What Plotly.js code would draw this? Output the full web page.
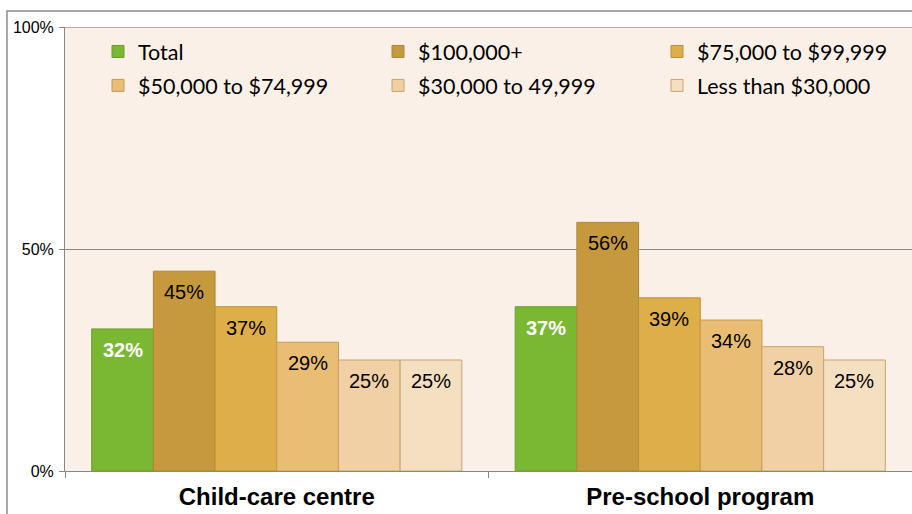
<!DOCTYPE html>
<html><head><meta charset="utf-8">
<script src="https://cdn.plot.ly/plotly-3.0.1.min.js"></script>
<style>body{margin:0;background:#fff}#c{width:912px;height:514px}</style>
</head><body><div id="c"></div>
<script>
const categories = ['Child-care centre', 'Pre-school program'];
const seriesNames = ['Total', '$100,000+', '$75,000 to $99,999', '$50,000 to $74,999', '$30,000 to 49,999', 'Less than $30,000'];
const total = [32, 37];
const inc100k = [45, 56];
const inc75k = [37, 39];
const inc50k = [29, 34];
const inc30k = [25, 28];
const incLess30k = [25, 25];
const yTickVals = [0, 50, 100];
const yTickText = ['0%', '50%', '100%'];

const seriesValues = [total, inc100k, inc75k, inc50k, inc30k, incLess30k];
const fills = ['#7AB733', '#C6993F', '#DEAE48', '#E9BE74', '#F0D0A4', '#F4DFC1'];
const borders = ['#6C9E2C', '#B08734', '#B8903A', '#C29A55', '#C9A26A', '#C9A46E'];
// legend column for each series (three columns, two rows)
const legendOf = ['legend', 'legend2', 'legend3', 'legend', 'legend2', 'legend3'];

const W = 912, H = 514;
const margin = {l: 65, r: 0, t: 27, b: 43};
const bargap = 0.126;
const plotW = W - margin.l - margin.r;
const plotH = H - margin.t - margin.b;
const barPx = plotW / categories.length * (1 - bargap) / seriesNames.length;

const traces = seriesNames.map((n, i) => ({
  type: 'bar', name: n, x: categories, y: seriesValues[i],
  legend: legendOf[i], legendgroup: n,
  marker: {color: fills[i], line: {color: borders[i], width: 1}},
  hoverinfo: 'none'
}));

const annotations = [];
seriesValues.forEach((vals, i) => {
  vals.forEach((v, j) => {
    annotations.push({
      x: categories[j], y: v, xref: 'x', yref: 'y',
      text: v + '%', showarrow: false, yanchor: 'top', yshift: -8,
      xshift: (i - (seriesNames.length - 1) / 2) * barPx,
      font: i === 0 ? {family: 'Liberation Sans, Arial', size: 20, color: '#ffffff', weight: 'bold'}
                    : {family: 'Liberation Sans, Arial', size: 20, color: '#000000'}
    });
  });
});

function legendAt(px) {
  return {orientation: 'v', x: (px - margin.l) / plotW, y: (H - margin.b - 31) / plotH,
    xanchor: 'left', yanchor: 'top', tracegroupgap: 3, bgcolor: 'rgba(0,0,0,0)',
    font: {family: 'Lato, Open Sans', size: 21.5, color: '#000'}, traceorder: 'grouped'};
}

const layout = {
  width: W, height: H, margin: margin,
  paper_bgcolor: '#ffffff', plot_bgcolor: '#FAF0E7',
  barmode: 'group', bargap: bargap, bargroupgap: 0,
  showlegend: true,
  legend: legendAt(98), legend2: legendAt(378), legend3: legendAt(657),
  xaxis: {type: 'category', tickson: 'boundaries', ticks: 'outside', ticklen: 6, tickcolor: '#888',
    showline: true, linecolor: '#888', linewidth: 1, showgrid: false, ticklabelstandoff: 4,
    tickfont: {family: 'Liberation Sans, Arial', size: 24, color: '#000', weight: 'bold'}, fixedrange: true},
  yaxis: {range: [0, 100], tickvals: yTickVals, ticktext: yTickText, ticks: 'outside', ticklen: 5,
    tickcolor: '#888', showline: true, linecolor: '#888', linewidth: 1, ticklabelstandoff: 2,
    showgrid: true, gridcolor: '#8a8a8a', gridwidth: 1, zeroline: false,
    tickfont: {family: 'Liberation Sans, Arial', size: 16, color: '#000'}, fixedrange: true},
  annotations: annotations,
  shapes: [
    {type: 'rect', xref: 'paper', yref: 'paper',
      x0: (7 - margin.l) / plotW, x1: 1.2,
      y0: -0.3, y1: (H - margin.b - 11) / plotH,
      line: {color: '#8c8c8c', width: 1.5}, fillcolor: 'rgba(0,0,0,0)', layer: 'above'},
    {type: 'line', xref: 'paper', yref: 'y', x0: 0, x1: 1, y0: 100, y1: 100,
      line: {color: '#9a9a9a', width: 1.5}, layer: 'above'}
  ]
};

Plotly.newPlot('c', traces, layout, {displayModeBar: false, staticPlot: true});
</script></body></html>
